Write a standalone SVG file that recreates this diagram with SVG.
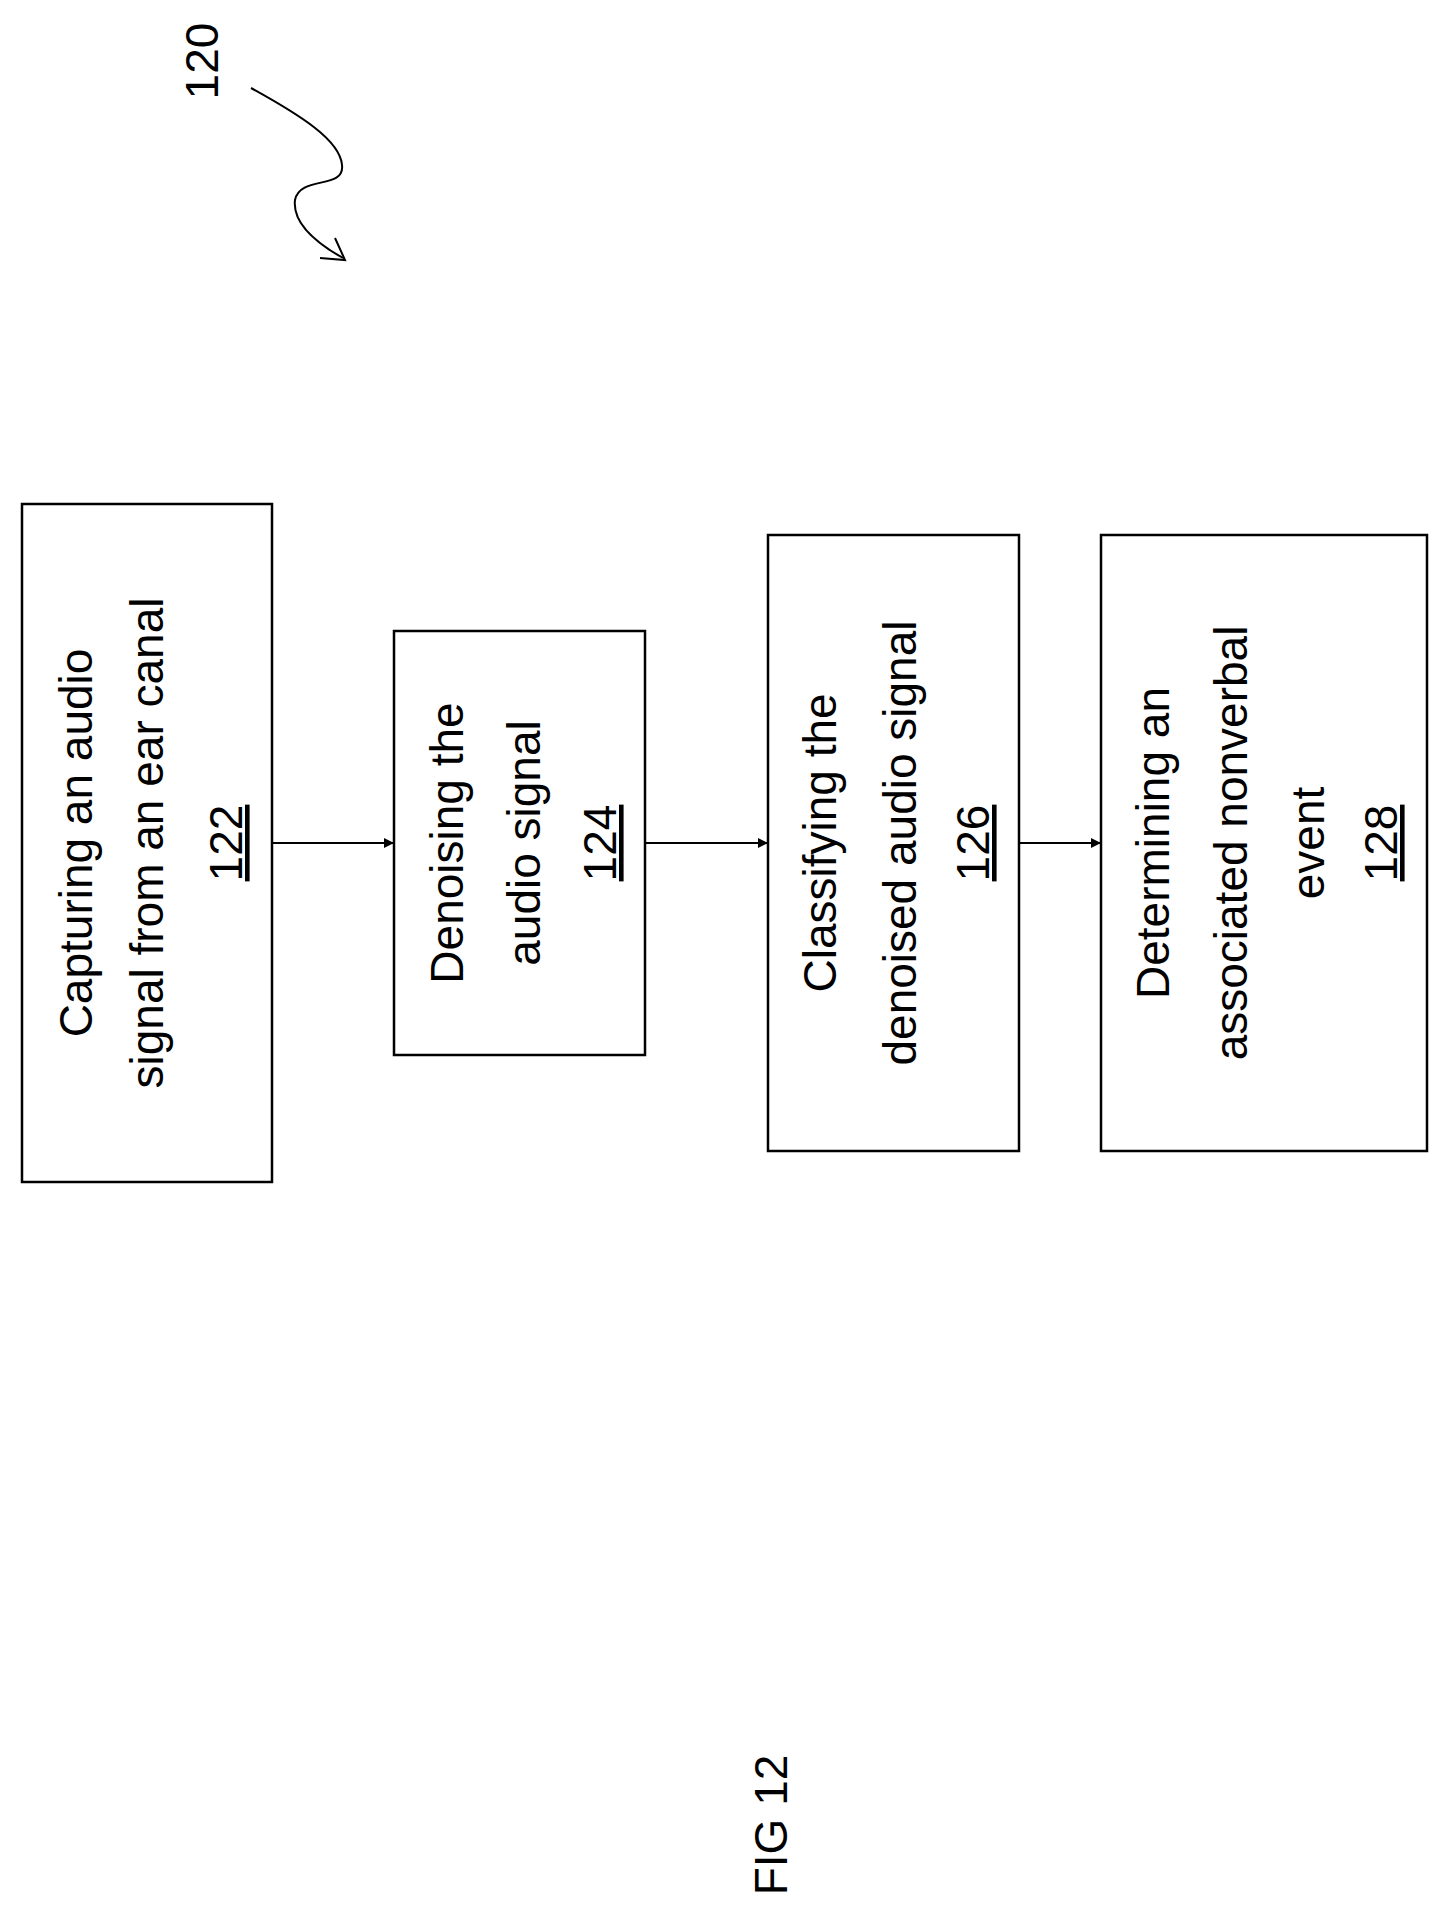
<svg xmlns="http://www.w3.org/2000/svg" width="1449" height="1920" viewBox="0 0 1449 1920">
<style>
.box{fill:#fff;stroke:#000;stroke-width:2.5}
text{font-family:"Liberation Sans Narrow","Liberation Sans",sans-serif;font-size:46px;text-anchor:middle;fill:#000}
.u{text-decoration:underline}
.c{stroke:#000;stroke-width:2;fill:none}
</style>
<defs><marker id="a" markerWidth="10" markerHeight="10" refX="10" refY="5" orient="auto" markerUnits="userSpaceOnUse" viewBox="0 0 10 10"><path d="M0,0 L10,5 L0,10 z" fill="#000"/></marker></defs>
<rect width="1449" height="1920" fill="#fff"/>
<g id="n122"><rect class="box" x="22" y="504" width="250" height="678"/>
<text transform="translate(92,843) rotate(-90)">Capturing an audio</text>
<text transform="translate(163,843) rotate(-90)">signal from an ear canal</text>
<text class="u" transform="translate(242,843) rotate(-90)">122</text></g>
<g id="n124"><rect class="box" x="394" y="631" width="251" height="424"/>
<text transform="translate(463,843) rotate(-90)">Denoising the</text>
<text transform="translate(540,843) rotate(-90)">audio signal</text>
<text class="u" transform="translate(616,843) rotate(-90)">124</text></g>
<g id="n126"><rect class="box" x="768" y="535" width="251" height="616"/>
<text transform="translate(836,843) rotate(-90)">Classifying the</text>
<text transform="translate(916,843) rotate(-90)">denoised audio signal</text>
<text class="u" transform="translate(989,843) rotate(-90)">126</text></g>
<g id="n128"><rect class="box" x="1101" y="535" width="326" height="616"/>
<text transform="translate(1169,843) rotate(-90)">Determining an</text>
<text transform="translate(1247,843) rotate(-90)">associated nonverbal</text>
<text transform="translate(1324,843) rotate(-90)">event</text>
<text class="u" transform="translate(1397,843) rotate(-90)">128</text></g>
<g id="connectors">
<line class="c" x1="272" y1="843" x2="394" y2="843" marker-end="url(#a)"/>
<line class="c" x1="645" y1="843" x2="768" y2="843" marker-end="url(#a)"/>
<line class="c" x1="1019" y1="843" x2="1101" y2="843" marker-end="url(#a)"/>
<path class="c" d="M251,88 C300,115 340,140 342,165 C345,190 300,175 295,200 C292,225 320,245 343,258"/>
<path class="c" d="M320,258 L345,260 L335,238"/>
</g>
<text transform="translate(218,61) rotate(-90)">120</text>
<text transform="translate(787,1825) rotate(-90)">FIG 12</text>
</svg>
